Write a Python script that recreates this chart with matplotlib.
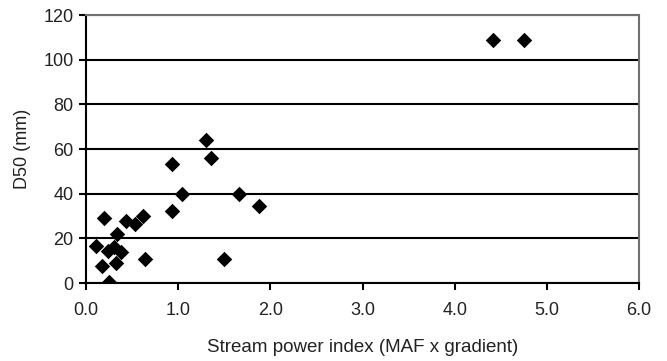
import matplotlib.pyplot as plt

plt.rcParams['font.family'] = ['Liberation Sans', 'DejaVu Sans']

# Stream power index vs median grain size
stream_power = [0.11, 0.19, 0.17, 0.25, 0.24, 0.30, 0.375, 0.32, 0.34, 0.43,
                0.53, 0.62, 0.64, 0.93, 0.93, 1.04, 1.30, 1.36, 1.50, 1.66,
                1.88, 4.42, 4.75]
d50_mm = [16.8, 29.3, 7.5, 0.5, 14.5, 16.3, 13.8, 8.8, 22.0, 27.7,
          26.6, 29.9, 10.8, 53.1, 32.3, 39.9, 64.1, 56.1, 10.8, 39.9,
          34.4, 108.8, 108.8]

fig = plt.figure(figsize=(6.67, 3.61), dpi=100)
ax = fig.add_axes([0.129, 0.216, 0.829, 0.742])

ax.scatter(stream_power, d50_mm, marker='D', s=62, color='black', zorder=3,
           linewidths=0)

ax.set_xlim(0, 6.0)
ax.set_ylim(0, 120)
ax.set_xticks([0, 1, 2, 3, 4, 5, 6])
ax.set_xticklabels([f'{v:.1f}' for v in range(7)])
ax.set_yticks(range(0, 121, 20))

ax.yaxis.grid(True, color='black', linewidth=1.5)
ax.set_axisbelow(True)

for side in ['left', 'bottom']:
    ax.spines[side].set_color('black')
    ax.spines[side].set_linewidth(1.5)
for side in ['top', 'right']:
    ax.spines[side].set_color('#707070')
    ax.spines[side].set_linewidth(1.5)

ax.tick_params(direction='out', length=5, width=1.5, labelsize=13,
               colors='black', labelcolor='#222222')
ax.tick_params(axis='x', pad=9)
ax.tick_params(axis='y', pad=4)

ax.set_xlabel('Stream power index (MAF x gradient)', fontsize=13.5,
              labelpad=14, color='#222222')
ax.set_ylabel('D50 (mm)', fontsize=13, labelpad=9, color='#222222')

fig.savefig('out.png', dpi=100)
